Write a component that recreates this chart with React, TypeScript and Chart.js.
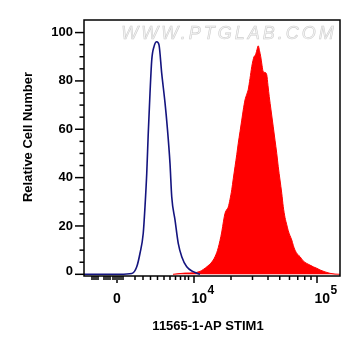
import { useEffect, useRef } from 'react';
import { Chart, registerables } from 'chart.js';

Chart.register(...registerables);

// x values are display channels (0–1024) of a biexponential axis
const controlX = [0, 144, 191, 211, 224, 237, 244, 251, 257, 264, 271, 280, 291, 300, 311, 324, 333, 344, 351, 364, 377, 391, 411, 437, 464];
const controlY = [0, 0, 0.3, 3.1, 8.7, 17, 28, 41.8, 58.3, 74.9, 88.7, 94.2, 96.2, 94.9, 83, 71, 61, 45.9, 32, 22.5, 12.8, 7.3, 3.1, 1.1, 0];

const stainX = [356, 404, 437, 464, 477, 496, 517, 531, 537, 544, 551, 558, 564, 571, 577, 584, 591, 597, 604, 611, 617, 624, 631, 637, 644, 651, 657, 664, 671, 676, 680, 684, 688, 692, 697, 702, 707, 712, 717, 724, 731, 736, 741, 748, 757, 764, 771, 777, 784, 791, 797, 804, 811, 817, 824, 831, 837, 844, 854, 864, 877, 891, 904, 917, 931, 944, 964, 984, 1004, 1024];
const stainY = [0, 0.5, 0.6, 1.2, 2, 3.5, 5.9, 9, 11, 14, 17.5, 22, 25.2, 26.8, 27.8, 31, 35, 39.5, 44.5, 49.5, 54.2, 59, 63.8, 68, 72.1, 74.5, 76.5, 81, 85.9, 88.5, 90, 90.5, 91.4, 93, 94.5, 92.5, 90, 86.5, 83.8, 83.5, 82.5, 78, 73.5, 68, 61, 55.5, 50, 44.5, 39, 33.5, 28, 23.5, 20.5, 18, 16, 14.2, 12, 10, 8.3, 7.3, 5.5, 4.5, 3.8, 3.1, 2.5, 1.8, 1, 0.4, 0.1, 0];

const yMajorTicks = [0, 20, 40, 60, 80, 100];
const yMinorTicks = [5, 10, 15, 25, 30, 35, 45, 50, 55, 65, 70, 75, 85, 90, 95];
const yTickLabels = ['0', '20', '40', '60', '80', '100'];

const xMajorTicks = [132, 440, 932];
const xTickBase = ['0', '10', '10'];
const xTickExp = ['', '4', '5'];
const xMinorTicks = [32, 40, 48, 56, 80, 88, 96, 104, 116, 124, 140, 148, 156, 204, 236, 266, 294, 320, 344, 366, 386, 404, 418, 588, 674, 736, 783, 822, 855, 883, 908];

const xTitle = '11565-1-AP STIM1';
const yTitle = 'Relative Cell Number';
const watermark = 'WWW.PTGLAB.COM';

const FONT = '"Liberation Sans", Arial, Helvetica, sans-serif';

const watermarkPlugin = {
  id: 'watermark',
  beforeDatasetsDraw(chart: any) {
    const ctx = chart.ctx;
    ctx.save();
    ctx.font = `italic 18px ${FONT}`;
    (ctx as any).letterSpacing = '3px';
    ctx.textAlign = 'center';
    ctx.textBaseline = 'middle';
    ctx.fillStyle = '#f6f6f6';
    ctx.strokeStyle = '#cfcfcf';
    ctx.lineWidth = 0.6;
    ctx.fillText(watermark, 229, 34);
    ctx.strokeText(watermark, 229, 34);
    ctx.restore();
  },
};

const axesPlugin = {
  id: 'flowAxes',
  afterDatasetsDraw(chart: any) {
    const ctx = chart.ctx as CanvasRenderingContext2D;
    const { left, right, top, bottom } = chart.chartArea;
    const xs = chart.scales.x;
    const ys = chart.scales.y;
    ctx.save();
    ctx.strokeStyle = '#000';
    ctx.fillStyle = '#000';
    ctx.lineWidth = 1.5;
    ctx.strokeRect(left, top, right - left, bottom - top);
    const line = (x1: number, y1: number, x2: number, y2: number) => {
      ctx.beginPath();
      ctx.moveTo(x1, y1);
      ctx.lineTo(x2, y2);
      ctx.stroke();
    };
    yMajorTicks.forEach((v) => {
      const y = ys.getPixelForValue(v);
      line(left - 9, y, left, y);
    });
    yMinorTicks.forEach((v) => {
      const y = ys.getPixelForValue(v);
      line(left - 4.5, y, left, y);
    });
    xMajorTicks.forEach((v) => {
      const x = xs.getPixelForValue(v);
      line(x, bottom, x, bottom + 7);
    });
    xMinorTicks.forEach((v) => {
      const x = xs.getPixelForValue(v);
      line(x, bottom, x, bottom + 4);
    });

    // y tick labels
    ctx.font = `bold 13px ${FONT}`;
    ctx.textAlign = 'right';
    ctx.textBaseline = 'middle';
    yMajorTicks.forEach((v, i) => {
      const y = Math.min(ys.getPixelForValue(v), bottom - 4.5);
      ctx.fillText(yTickLabels[i], left - 11, y);
    });

    // x tick labels
    ctx.textBaseline = 'alphabetic';
    xMajorTicks.forEach((v, i) => {
      const x = xs.getPixelForValue(v);
      const base = xTickBase[i];
      const exp = xTickExp[i];
      ctx.font = `bold 14px ${FONT}`;
      if (!exp) {
        ctx.textAlign = 'center';
        ctx.fillText(base, x, 303);
      } else {
        ctx.textAlign = 'left';
        const bx = x - 2.5;
        ctx.fillText(base, bx, 303);
        const w = ctx.measureText(base).width;
        ctx.font = `bold 12px ${FONT}`;
        ctx.fillText(exp, bx + w + 0.5, 294);
      }
    });

    // titles
    ctx.font = `bold 13px ${FONT}`;
    ctx.textAlign = 'center';
    ctx.textBaseline = 'middle';
    ctx.fillText(xTitle, 208, 326);
    ctx.save();
    ctx.translate(28, 137);
    ctx.rotate(-Math.PI / 2);
    ctx.fillText(yTitle, 0, 0);
    ctx.restore();
    ctx.restore();
  },
};

export default function App() {
  const ref = useRef<HTMLCanvasElement>(null);
  useEffect(() => {
    document.body.style.margin = '0';
    const control = controlX.map((x, i) => ({ x, y: controlY[i] }));
    const stain = stainX.map((x, i) => ({ x, y: stainY[i] }));
    const chart = new Chart(ref.current as HTMLCanvasElement, {
      type: 'line',
      data: {
        datasets: [
          {
            label: 'Control',
            data: control,
            borderColor: '#14147f',
            borderWidth: 1.6,
            pointRadius: 0,
            fill: false,
            cubicInterpolationMode: 'monotone',
          },
          {
            label: '11565-1-AP',
            data: stain,
            borderColor: '#ff0000',
            backgroundColor: '#ff0000',
            borderWidth: 1,
            pointRadius: 0,
            fill: 'origin',
            cubicInterpolationMode: 'monotone',
          },
        ],
      },
      options: {
        animation: false,
        responsive: false,
        devicePixelRatio: 1,
        layout: { padding: { left: 84, top: 20, right: 21, bottom: 80 } },
        plugins: { legend: { display: false }, tooltip: { enabled: false } },
        scales: {
          x: { type: 'linear', display: false, min: 0, max: 1024 },
          y: { type: 'linear', display: false, min: -0.7, max: 105.2 },
        },
      },
      plugins: [watermarkPlugin, axesPlugin],
    });
    return () => chart.destroy();
  }, []);
  return (
    <div style={{ width: 361, height: 356, background: '#fff' }}>
      <canvas ref={ref} width={361} height={356} style={{ display: 'block' }} />
    </div>
  );
}
